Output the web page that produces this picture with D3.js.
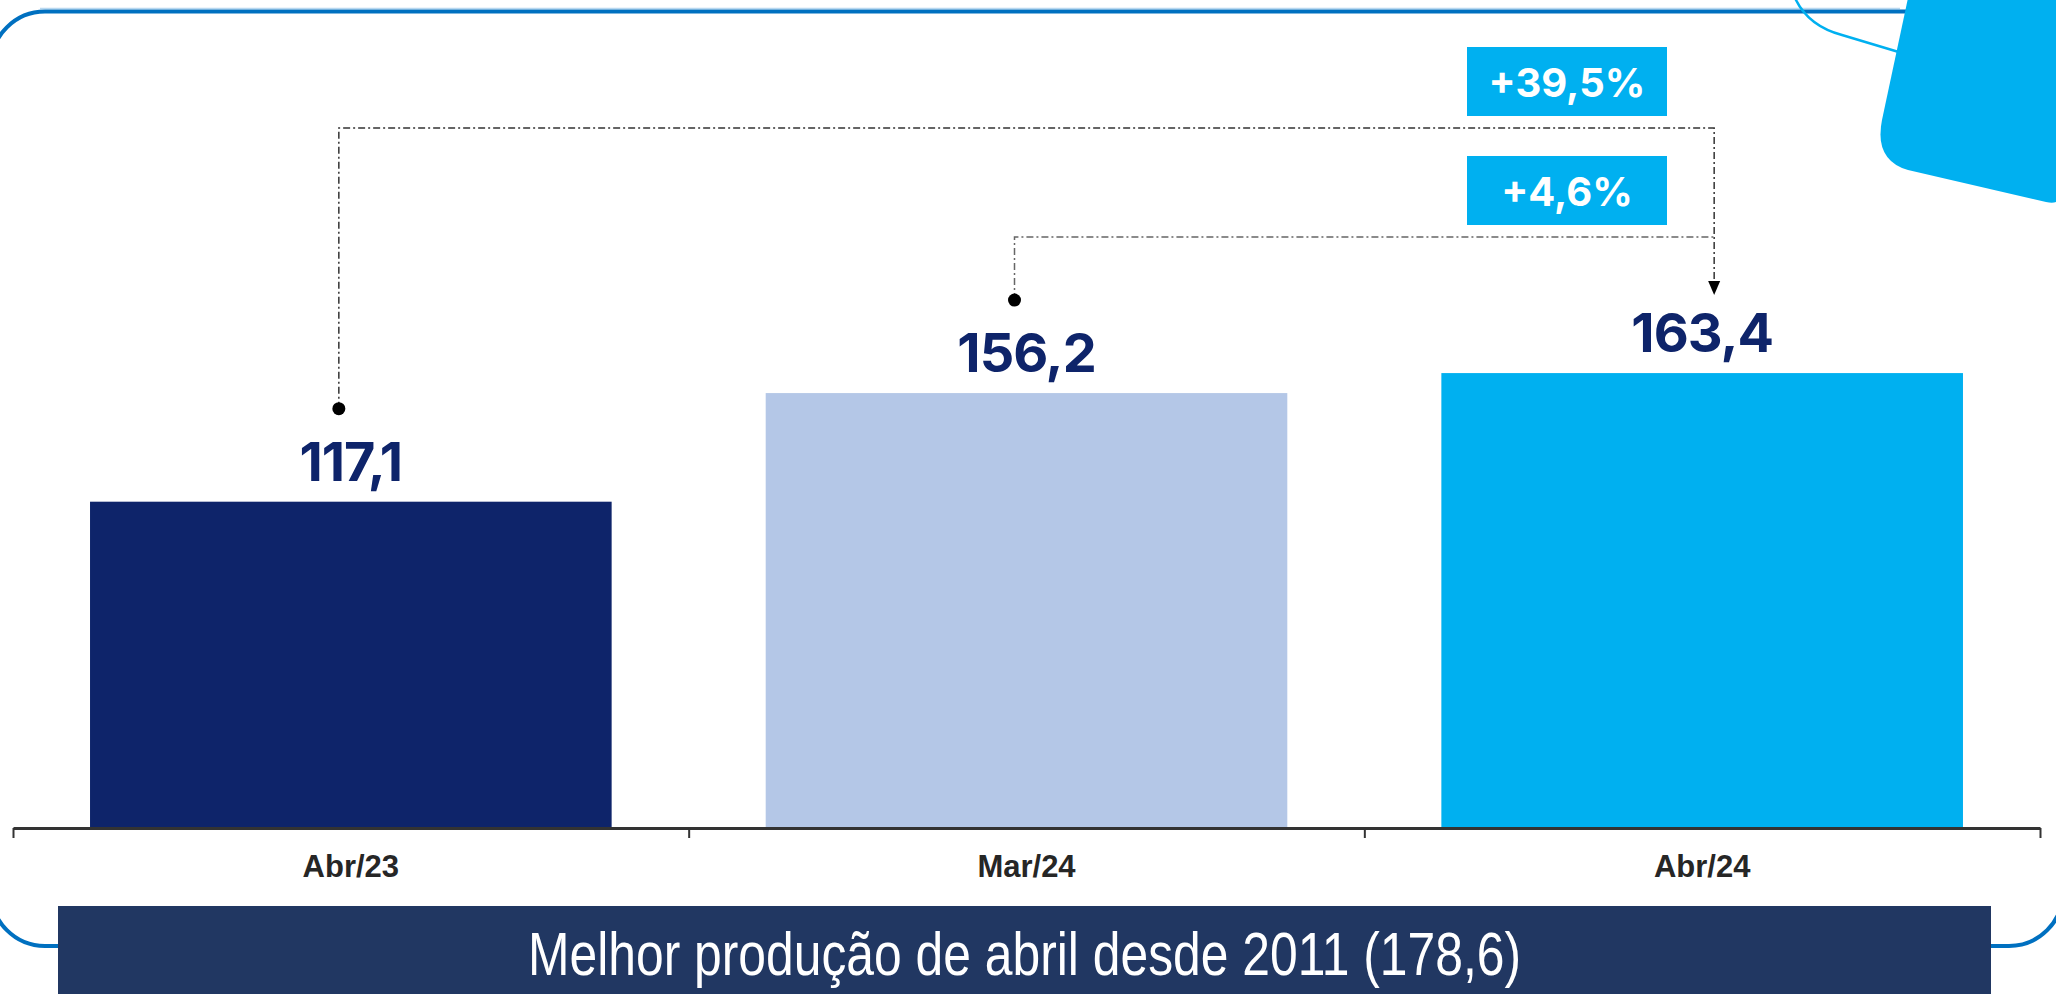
<!DOCTYPE html>
<html>
<head>
<meta charset="utf-8">
<script src="https://cdn.jsdelivr.net/npm/d3@7"></script>
<style>
  body { margin: 0; background: #fff; }
  svg { display: block; }
</style>
</head>
<body>
<div id="chart"></div>
<script>
// dados
var categorias = ["Abr/23", "Mar/24", "Abr/24"];
var valores = [117.1, 156.2, 163.4];
var cores = ["#0e246a", "#b4c7e7", "#00b0f0"];
var nota = "Melhor produção de abril desde 2011 (178,6)";
// comparações: de -> até (índices das barras)
var comparacoes = [{de: 0, ate: 2}, {de: 1, ate: 2}];

var W = 2056, H = 994;

var svg = d3.select("#chart")
  .append("svg")
    .attr("width", W)
    .attr("height", H);

var br = d3.formatLocale({decimal: ",", thousands: ".", grouping: [3], currency: ["R$", ""]});
var fmt = br.format(".1f");

// moldura arredondada
svg.append("line")
  .attr("x1", 40).attr("x2", 1900)
  .attr("y1", 8.5).attr("y2", 8.5)
  .style("stroke", "#b9d8f0")
  .style("stroke-width", 1.5);
svg.append("rect")
  .attr("x", -9).attr("y", 11.5)
  .attr("width", 2072).attr("height", 934.5)
  .attr("rx", 54).attr("ry", 54)
  .style("fill", "none")
  .style("stroke", "#0070c0")
  .style("stroke-width", 4);

// forma decorativa (canto superior direito)
svg.append("path")
  .attr("d", "M1795,-2 Q1808,26 1842,35 L1912,56")
  .style("fill", "none")
  .style("stroke", "#00b0f0")
  .style("stroke-width", 2.5);
svg.append("path")
  .attr("d", "M1908,-2 L1882,120 Q1874,160 1908,170 L2046,202 Q2060,205 2060,195 L2060,-2 Z")
  .style("fill", "#00b0f0");

// escalas
var x = d3.scaleBand()
  .domain(categorias)
  .range([13, 2040])
  .paddingInner(0.228)
  .paddingOuter(0.114);

var y = d3.scaleLinear()
  .domain([0, 297.7])
  .range([827, 0]);

// barras
svg.selectAll(".bar")
  .data(valores)
  .enter()
  .append("rect")
    .attr("class", "bar")
    .attr("x", function(d, i) { return x(categorias[i]); })
    .attr("y", function(d) { return y(d); })
    .attr("width", x.bandwidth())
    .attr("height", function(d) { return y(0) - y(d); })
    .style("fill", function(d, i) { return cores[i]; });

// rótulos de valor
svg.selectAll(".rot")
  .data(valores)
  .enter()
  .append("text")
    .attr("class", "rot")
    .attr("x", function(d, i) { return x(categorias[i]) + x.bandwidth() / 2; })
    .attr("y", function(d) { return y(d) - 21; })
    .attr("text-anchor", "middle")
    .style("font-family", "Inter, 'Noto Sans', sans-serif")
    .style("font-weight", 700)
    .style("font-size", "54px")
    .style("letter-spacing", "-1px")
    .style("fill", "#0e246a")
    .text(function(d) { return fmt(d); });

// eixo X: traços nas divisões entre categorias
var xDiv = d3.scaleLinear().domain([0, categorias.length]).range(x.range());
var eixoDiv = svg.append("g")
  .attr("transform", "translate(0," + 828 + ")")
  .call(d3.axisBottom(xDiv)
    .tickValues(d3.range(categorias.length + 1))
    .tickSize(10)
    .tickSizeOuter(0)
    .tickFormat(""));
eixoDiv.select(".domain").style("stroke", "#333").style("stroke-width", 3);
eixoDiv.selectAll(".tick line").style("stroke", "#333").style("stroke-width", 2);

var eixoX = svg.append("g")
  .attr("transform", "translate(0," + 828 + ")")
  .call(d3.axisBottom(x).tickSize(0));
eixoX.select(".domain").remove();
eixoX.selectAll("text")
  .attr("y", 49)
  .attr("dy", null)
  .style("font-family", "'Liberation Sans', Arial, sans-serif")
  .style("font-weight", 700)
  .style("font-size", "31px")
  .style("fill", "#262626");

// conectores de variação
var niveis = [128, 237];
var corLinha = ["#333", "#666"];
var xFim = x(categorias[2]) + x.bandwidth() / 2 + 12;
var topoSeta = y(valores[2]) - 78;

comparacoes.forEach(function(c, k) {
  var xi = x(categorias[c.de]) + x.bandwidth() / 2 - 12;
  var yi = y(valores[c.de]) - 93;
  var nivel = niveis[k];
  svg.append("path")
    .attr("d", "M" + xi + "," + yi + " V" + nivel + " H" + xFim + (k === 0 ? " V" + (topoSeta - 14) : ""))
    .style("fill", "none")
    .style("stroke", corLinha[k])
    .style("stroke-width", 1.5)
    .style("stroke-dasharray", "7,3,2,3");
  svg.append("circle")
    .attr("cx", xi).attr("cy", yi)
    .attr("r", 6.5)
    .style("fill", "#000");

  var pct = (valores[c.ate] / valores[c.de] - 1) * 100;
  var caixa = svg.append("g")
    .attr("transform", "translate(1467," + (nivel - 81) + ")");
  caixa.append("rect")
    .attr("width", 200).attr("height", 69)
    .style("fill", "#00b0f0");
  caixa.append("text")
    .attr("x", 100).attr("y", 50)
    .attr("text-anchor", "middle")
    .style("font-family", "Inter, 'Noto Sans', sans-serif")
    .style("font-weight", 700)
    .style("font-size", "40px")
    .style("fill", "#fff")
    .text("+" + fmt(pct) + "%");
});

// ponta da seta
svg.append("path")
  .attr("d", "M" + (xFim - 6) + "," + (topoSeta - 14) + " L" + (xFim + 6) + "," + (topoSeta - 14) + " L" + xFim + "," + topoSeta + " Z")
  .style("fill", "#000");

// faixa inferior
svg.append("rect")
  .attr("x", 58).attr("y", 906)
  .attr("width", 1933).attr("height", 90)
  .style("fill", "#213762");
svg.append("text")
  .attr("x", 1024.5).attr("y", 975)
  .attr("text-anchor", "middle")
  .attr("textLength", 993)
  .attr("lengthAdjust", "spacingAndGlyphs")
  .style("font-family", "'Liberation Sans Narrow', 'Liberation Sans', Arial, sans-serif")
  .style("font-size", "61px")
  .style("fill", "#fff")
  .text(nota);
</script>
</body>
</html>
